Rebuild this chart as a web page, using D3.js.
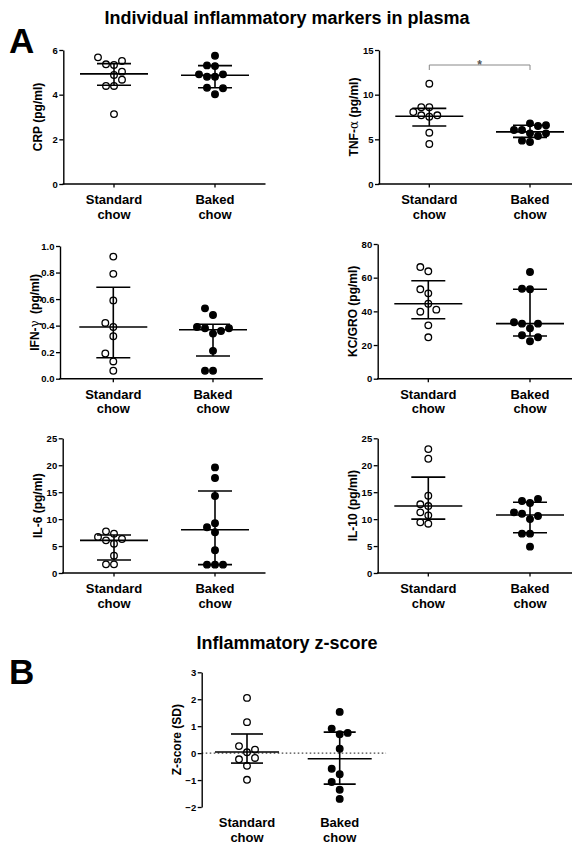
<!DOCTYPE html>
<html>
<head>
<meta charset="utf-8">
<script src="https://cdn.jsdelivr.net/npm/d3@7"></script>
<style>
  body { margin: 0; background: #fff; }
  svg { display: block; }
  text { font-family: Arial, "Liberation Sans", sans-serif; }
</style>
</head>
<body>
<svg id="fig" width="572" height="846"></svg>
<script>
// Diet groups (x categories)
const groups = ["Standard chow", "Baked chow"];

// Individual animal values per group (pg/ml; z-score in SD)
const crpStandard = [5.33, 4.88, 4.39, 3.13, 5.36, 4.39, 5.51, 5.03, 4.67, 5.67];
const crpBaked    = [5.74, 5.28, 4.80, 4.02, 4.80, 4.31, 5.31, 4.91, 4.29, 4.91];
const tnfStandard = [11.23, 8.59, 7.53, 5.74, 4.48, 8.59, 7.69, 7.69, 8.06];
const tnfBaked    = [6.79, 5.67, 4.70, 6.04, 5.37, 6.04, 4.85, 6.49, 6.57, 5.67];
const ifnStandard = [0.92, 0.79, 0.59, 0.39, 0.32, 0.13, 0.06, 0.42, 0.19];
const ifnBaked    = [0.48, 0.34, 0.21, 0.06, 0.53, 0.38, 0.36, 0.06, 0.39, 0.38];
const kcStandard  = [63.8, 50.7, 44.5, 39.8, 31.7, 24.6, 66.3, 53.1, 41.0];
const kcBaked     = [63.4, 53.1, 29.9, 22.2, 32.7, 25.8, 53.4, 32.7, 24.6, 33.5];
const il6Standard = [7.30, 5.44, 3.22, 1.61, 7.73, 6.31, 6.06, 1.61, 6.68];
const il6Baked    = [19.6, 17.63, 14.29, 9.22, 7.55, 4.21, 1.55, 1.55, 8.48, 1.55];
const il10Standard = [23.0, 21.2, 14.35, 12.43, 10.7, 9.15, 11.26, 12.75, 9.4];
const il10Baked    = [12.99, 10.0, 7.3, 4.89, 13.36, 11.0, 7.3, 13.73, 10.58, 11.26];
const zStandard = [2.05, 1.15, 0.03, -0.47, -0.99, 0.26, -0.23, 0.13, -0.18];
const zBaked    = [1.53, 0.70, 0.16, -0.78, -1.36, -1.70, 0.91, -1.07, 0.75, -0.58];

// Medians and interquartile ranges [Standard, Baked]
const crpMedian = [4.93, 4.87];   const crpIQR = [[4.42, 5.39], [4.31, 5.30]];
const tnfMedian = [7.58, 5.84];   const tnfIQR = [[6.49, 8.47], [5.22, 6.57]];
const ifnMedian = [0.39, 0.369];  const ifnIQR = [[0.158, 0.689], [0.171, 0.41]];
const kcMedian  = [44.5, 32.7];   const kcIQR  = [[35.6, 58.2], [25.4, 53.1]];
const il6Median = [6.06, 8.04];   const il6IQR = [[2.41, 7.05], [1.55, 15.22]];
const il10Median = [12.43, 10.76]; const il10IQR = [[10.0, 17.8], [7.48, 13.12]];
const zMedian = [0.04, -0.21];    const zIQR = [[-0.37, 0.71], [-1.15, 0.78]];

// Y-axis tick values
const crpTicks = [0, 2, 4, 6];
const tnfTicks = [0, 5, 10, 15];
const ifnTicks = [0, 0.2, 0.4, 0.6, 0.8, 1.0];
const kcTicks  = [0, 20, 40, 60, 80];
const il6Ticks = [0, 5, 10, 15, 20, 25];
const il10Ticks = [0, 5, 10, 15, 20, 25];
const zTicks = [-2, -1, 0, 1, 2, 3];

const svg = d3.select("#fig");
svg.append("rect").attr("width", 572).attr("height", 846).attr("fill", "#fff");

// Figure titles and panel letters
svg.append("text").attr("x", 287).attr("y", 24).attr("text-anchor", "middle")
  .attr("font-size", 18).attr("font-weight", "bold").text("Individual inflammatory markers in plasma");
svg.append("text").attr("x", 287).attr("y", 649).attr("text-anchor", "middle")
  .attr("font-size", 18).attr("font-weight", "bold").text("Inflammatory z-score");
svg.append("text").attr("x", 9).attr("y", 53)
  .attr("font-size", 35).attr("font-weight", "bold").text("A");
svg.append("text").attr("x", 9).attr("y", 684)
  .attr("font-size", 35).attr("font-weight", "bold").text("B");

const SLOT = 8;      // horizontal spacing between neighbouring dots
const MIN_DY = 8;    // vertical distance below which dots in one column collide
const R = 3.3;

function swarm(values, y) {
  const placed = [];
  const order = [0, -1, 1, -2, 2, -3, 3, -4, 4];
  values.forEach(v => {
    const py = y(v);
    const s = order.find(k => !placed.some(p => p.s === k && Math.abs(p.py - py) < MIN_DY));
    placed.push({ v, py, s });
  });
  return placed;
}

function panel(cfg) {
  const g = svg.append("g");
  const y = d3.scaleLinear().domain(cfg.domain).range([cfg.bottom, cfg.top]);
  const x = d3.scalePoint().domain(groups)
    .range([cfg.cx0 - cfg.step / 2, cfg.cx0 + cfg.step * 1.5]).padding(0.5);

  // zero reference line
  if (cfg.zeroLine) {
    g.append("line")
      .attr("x1", cfg.axisX).attr("x2", x.range()[1])
      .attr("y1", y(0)).attr("y2", y(0))
      .attr("stroke", "#444").attr("stroke-width", 1.2).attr("stroke-dasharray", "1.6,2.4");
  }

  // y axis
  const ya = d3.axisLeft(y).tickValues(cfg.ticks).tickSize(4).tickSizeOuter(0)
    .tickPadding(1.5).tickFormat(cfg.fmt);
  const yg = g.append("g").attr("transform", `translate(${cfg.axisX},0)`).call(ya);
  yg.select(".domain").attr("stroke", "#000").attr("stroke-width", 1.4);
  yg.selectAll(".tick line").attr("stroke", "#000").attr("stroke-width", 1.3);
  yg.selectAll(".tick text").attr("font-size", 9.5).attr("font-weight", "bold")
    .attr("fill", "#000").attr("font-family", "Arial, 'Liberation Sans', sans-serif");

  // x axis
  if (!cfg.noXAxis) {
    const xg = g.append("g");
    xg.append("line").attr("x1", cfg.axisX - 0.7).attr("x2", x.range()[1])
      .attr("y1", cfg.bottom).attr("y2", cfg.bottom)
      .attr("stroke", "#000").attr("stroke-width", 1.4);
    xg.selectAll("line.xt").data(groups).join("line").attr("class", "xt")
      .attr("x1", d => x(d)).attr("x2", d => x(d))
      .attr("y1", cfg.bottom).attr("y2", cfg.bottom + 3.5)
      .attr("stroke", "#000").attr("stroke-width", 1.3);
  }

  // category labels (two lines)
  groups.forEach(name => {
    const parts = name.split(" ");
    const t = g.append("text").attr("text-anchor", "middle")
      .attr("font-size", 13).attr("font-weight", "bold").attr("fill", "#000");
    t.append("tspan").attr("x", x(name)).attr("y", cfg.bottom + 20).text(parts[0]);
    t.append("tspan").attr("x", x(name)).attr("y", cfg.bottom + 34.5).text(parts[1]);
  });

  // y-axis title
  const mid = (cfg.top + cfg.bottom) / 2;
  const tt = g.append("text").attr("text-anchor", "middle")
    .attr("transform", `translate(${cfg.axisX - 21},${mid}) rotate(-90)`)
    .attr("font-size", 12).attr("font-weight", "bold").attr("fill", "#000");
  cfg.title.forEach(p => {
    const s = tt.append("tspan").text(p.t);
    if (p.greek) s.attr("font-family", "'DejaVu Serif', serif").attr("font-weight", "normal").attr("font-size", 12);
    if (p.dx) s.attr("dx", p.dx);
  });

  // individual points
  cfg.series.forEach((vals, i) => {
    const cx = x(groups[i]);
    const pts = swarm(vals, y);
    g.selectAll(null).data(pts).join("circle")
      .attr("cx", d => cx + d.s * SLOT).attr("cy", d => d.py).attr("r", R)
      .attr("fill", i === 0 ? "#fff" : "#000")
      .attr("stroke", "#000").attr("stroke-width", 1.3);
  });

  // median and interquartile range
  cfg.median.forEach((m, i) => {
    const cx = x(groups[i]);
    const [q1, q3] = cfg.iqr[i];
    const lw = cfg.lineW, cw = cfg.capW;
    const sg = g.append("g").attr("stroke", "#000").attr("stroke-width", 1.6);
    sg.append("line").attr("x1", cx).attr("x2", cx).attr("y1", y(q1)).attr("y2", y(q3));
    sg.append("line").attr("x1", cx - cw).attr("x2", cx + cw).attr("y1", y(q1)).attr("y2", y(q1));
    sg.append("line").attr("x1", cx - cw).attr("x2", cx + cw).attr("y1", y(q3)).attr("y2", y(q3));
    sg.append("line").attr("x1", cx - lw).attr("x2", cx + lw).attr("y1", y(m)).attr("y2", y(m));
  });

  return { x, y, g };
}

const intFmt = d3.format("d");
const oneDec = d3.format(".1f");

panel({ title: [{ t: "CRP (pg/ml)" }], domain: [0, 6], ticks: crpTicks, fmt: intFmt,
  axisX: 63.3, top: 50, bottom: 184, cx0: 114, step: 101, lineW: 34, capW: 17,
  series: [crpStandard, crpBaked], median: crpMedian, iqr: crpIQR });

const tnf = panel({ title: [{ t: "TNF-" }, { t: "α", greek: true }, { t: " (pg/ml)" }],
  domain: [0, 15], ticks: tnfTicks, fmt: intFmt,
  axisX: 379, top: 50, bottom: 184, cx0: 429.3, step: 100.7, lineW: 34, capW: 17,
  series: [tnfStandard, tnfBaked], median: tnfMedian, iqr: tnfIQR });

// significance bracket between the two diets
{
  const x0 = tnf.x(groups[0]), x1 = tnf.x(groups[1]), by = 65;
  const b = tnf.g.append("g").attr("stroke", "#888").attr("stroke-width", 1).attr("fill", "none");
  b.append("path").attr("d", `M${x0},${by + 5}V${by}H${x1}V${by + 5}`);
  tnf.g.append("text").attr("x", (x0 + x1) / 2).attr("y", by + 4).attr("text-anchor", "middle")
    .attr("font-size", 12).attr("font-weight", "bold").attr("fill", "#555").text("*");
}

panel({ title: [{ t: "IFN-" }, { t: "γ", greek: true }, { t: " (pg/ml)", dx: 3 }],
  domain: [0, 1], ticks: ifnTicks, fmt: oneDec,
  axisX: 60, top: 246, bottom: 378.7, cx0: 113.3, step: 99.7, lineW: 34, capW: 17,
  series: [ifnStandard, ifnBaked], median: ifnMedian, iqr: ifnIQR });

panel({ title: [{ t: "KC/GRO (pg/ml)" }], domain: [0, 80], ticks: kcTicks, fmt: intFmt,
  axisX: 377.7, top: 244, bottom: 378.7, cx0: 428.3, step: 101.7, lineW: 34, capW: 17,
  series: [kcStandard, kcBaked], median: kcMedian, iqr: kcIQR });

panel({ title: [{ t: "IL-6 (pg/ml)" }], domain: [0, 25], ticks: il6Ticks, fmt: intFmt,
  axisX: 62.7, top: 438.3, bottom: 573, cx0: 114, step: 101, lineW: 34, capW: 17,
  series: [il6Standard, il6Baked], median: il6Median, iqr: il6IQR });

panel({ title: [{ t: "IL-10 (pg/ml)" }], domain: [0, 25], ticks: il10Ticks, fmt: intFmt,
  axisX: 377.7, top: 438.3, bottom: 573, cx0: 428.3, step: 101.7, lineW: 34, capW: 17,
  series: [il10Standard, il10Baked], median: il10Median, iqr: il10IQR });

panel({ title: [{ t: "Z-score (SD)" }], domain: [-2, 3], ticks: zTicks, fmt: intFmt,
  axisX: 201.7, top: 672.3, bottom: 807, cx0: 247, step: 92.7, lineW: 32, capW: 16,
  noXAxis: true, zeroLine: true,
  series: [zStandard, zBaked], median: zMedian, iqr: zIQR });
</script>
</body>
</html>
